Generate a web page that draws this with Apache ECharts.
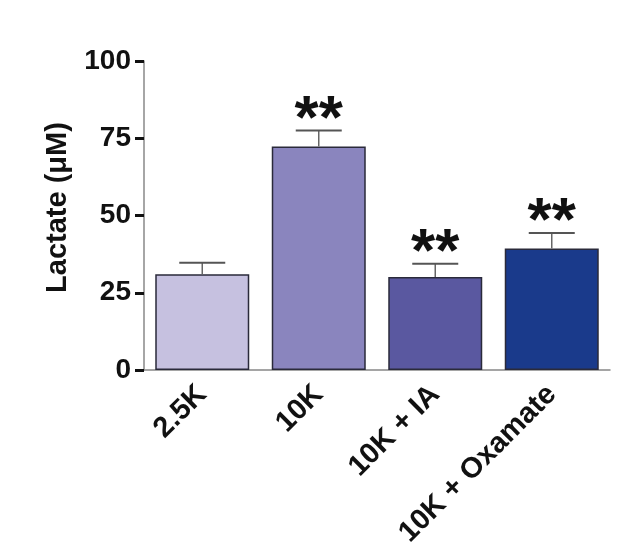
<!DOCTYPE html>
<html>
<head>
<meta charset="utf-8">
<script src="https://cdn.jsdelivr.net/npm/echarts@6/dist/echarts.min.js"></script>
<style>
html,body{margin:0;padding:0;background:#fff;}
#c{width:642px;height:554px;}
</style>
</head>
<body>
<div id="c"></div>
<script>
const categories = ['2.5K', '10K', '10K + IA', '10K + Oxamate'];
const means = [31, 72.3, 30.1, 39.3];
const errors = [3.7, 5.2, 4.3, 5.0];
const significance = ['', '**', '**', '**'];
const barColors = ['#c6c1e0', '#8a85be', '#5a58a0', '#1a3a8b'];
const yTicks = [0, 25, 50, 75, 100];

const chart = echarts.init(document.getElementById('c'), null, {renderer: 'canvas'});
const FONT = 'Liberation Sans, Arial, sans-serif';

chart.setOption({
  backgroundColor: '#ffffff',
  animation: false,
  grid: {left: 144, right: 32, top: 61, bottom: 184, containLabel: false},
  xAxis: {
    type: 'category',
    data: categories,
    axisLine: {show: true, lineStyle: {color: '#888', width: 1.5}},
    axisTick: {show: false},
    axisLabel: {
      rotate: 45, interval: 0, margin: 20,
      color: '#111', fontFamily: FONT, fontWeight: 'bold', fontSize: 29
    }
  },
  yAxis: {
    type: 'value',
    min: 0, max: 100, interval: 25,
    name: 'Lactate (\u03bcM)',
    nameLocation: 'middle',
    nameGap: 72,
    nameTextStyle: {color: '#111', fontFamily: FONT, fontWeight: 'bold', fontSize: 29, padding: [0, 0, 0, 16]},
    axisLine: {show: true, lineStyle: {color: '#888', width: 1.5}},
    axisTick: {show: true, inside: false, length: 9, lineStyle: {color: '#111', width: 3}},
    splitLine: {show: false},
    axisLabel: {
      margin: 13, color: '#111', fontFamily: FONT, fontWeight: 'bold', fontSize: 28,
      formatter: v => yTicks.includes(v) ? String(v) : ''
    }
  },
  series: [
    {
      type: 'bar',
      barWidth: 94,
      data: means.map((v, i) => ({value: v, itemStyle: {color: barColors[i]}})),
      itemStyle: {borderColor: '#2a2a3a', borderWidth: 1.5},
      z: 2
    },
    {
      type: 'custom',
      z: 3,
      data: means.map((v, i) => [i, v, v + errors[i]]),
      renderItem: function (params, api) {
        const x = api.value(0);
        const base = api.coord([x, api.value(1)]);
        const top = api.coord([x, api.value(2)]);
        const half = 23;
        const children = [
          {type: 'line', shape: {x1: base[0], y1: base[1], x2: top[0], y2: top[1]},
            style: {stroke: '#666', lineWidth: 1.5}},
          {type: 'line', shape: {x1: top[0] - half, y1: top[1], x2: top[0] + half, y2: top[1]},
            style: {stroke: '#555', lineWidth: 2}}
        ];
        const sig = significance[params.dataIndex];
        if (sig) {
          children.push({
            type: 'text',
            style: {
              text: sig, x: top[0], y: top[1] - 41,
              align: 'center', verticalAlign: 'top',
              fill: '#111', font: 'bold 62px ' + FONT
            }
          });
        }
        return {type: 'group', children: children};
      }
    }
  ]
});
</script>
</body>
</html>
